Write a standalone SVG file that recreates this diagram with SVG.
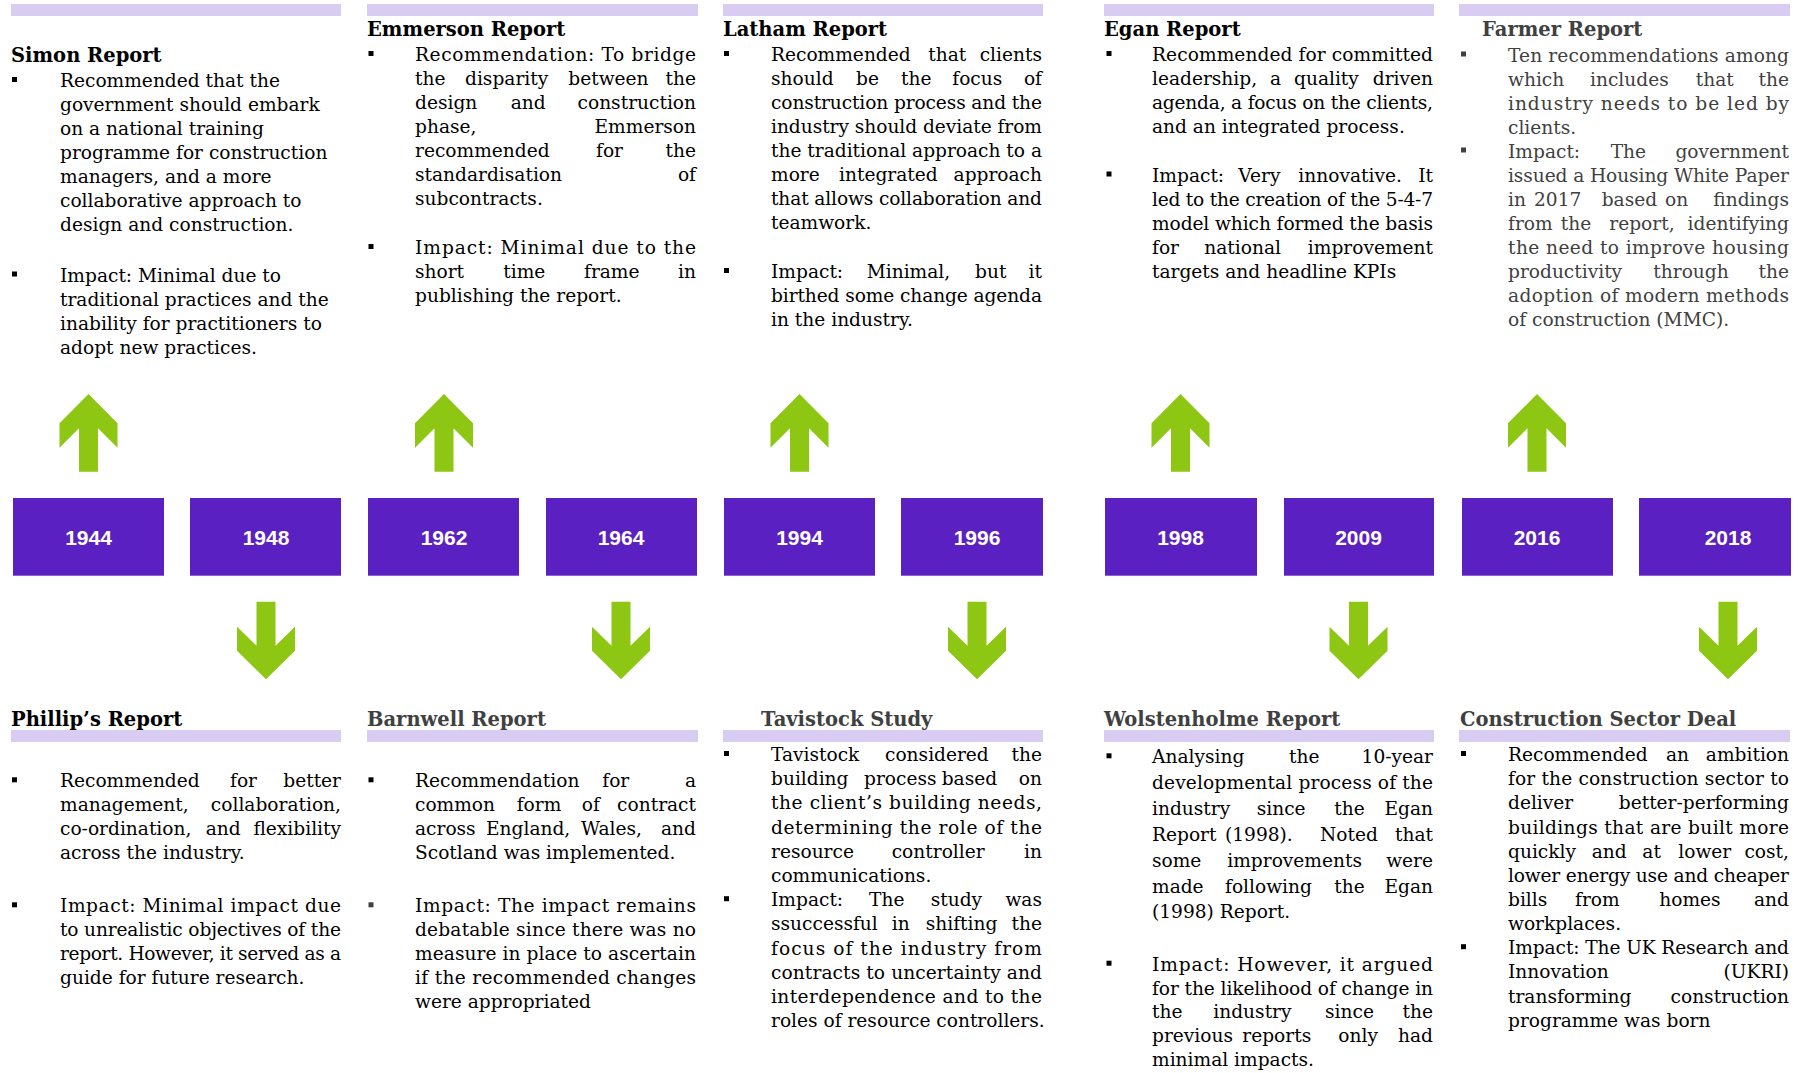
<svg xmlns="http://www.w3.org/2000/svg" width="1798" height="1073" viewBox="0 0 1798 1073">
<style>
.tx{font-family:"DejaVu Serif","Liberation Serif",serif;font-size:18.6px;fill:#000}
.hd{font-family:"DejaVu Serif","Liberation Serif",serif;font-size:19.5px;font-weight:bold;fill:#000}
.gr{fill:#404040}
.e{text-anchor:end}
.bar{fill:#d9ccf3}
.box{fill:#5b20c2}
.yr{font-family:"Liberation Sans",Arial,sans-serif;font-size:21px;font-weight:bold;fill:#fff;text-anchor:middle}
.arr{fill:#8dc713}
.bl{fill:#000}
.blg{fill:#404040}
</style>
<defs>
<polygon id="up" points="0,394 29,423.3 29,447.7 9.5,428.3 9.5,471.7 -9.5,471.7 -9.5,428.3 -29,447.7 -29,423.3"/>
<polygon id="down" points="0,679.3 29,650.7 29,626.7 9.5,645.7 9.5,601.7 -9.5,601.7 -9.5,645.7 -29,626.7 -29,650.7"/>
</defs>
<rect width="1798" height="1073" fill="#fff"/>

<!-- timeline year boxes -->
<g id="y1944"><rect class="box" x="13" y="498" width="151" height="77.7"/><text class="yr" x="88.5" y="545">1944</text></g>
<g id="y1948"><rect class="box" x="190" y="498" width="151" height="77.7"/><text class="yr" x="266" y="545">1948</text></g>
<g id="y1962"><rect class="box" x="368" y="498" width="151" height="77.7"/><text class="yr" x="444" y="545">1962</text></g>
<g id="y1964"><rect class="box" x="546" y="498" width="151" height="77.7"/><text class="yr" x="621" y="545">1964</text></g>
<g id="y1994"><rect class="box" x="724" y="498" width="151" height="77.7"/><text class="yr" x="799.5" y="545">1994</text></g>
<g id="y1996"><rect class="box" x="901" y="498" width="142" height="77.7"/><text class="yr" x="977" y="545">1996</text></g>
<g id="y1998"><rect class="box" x="1105" y="498" width="152" height="77.7"/><text class="yr" x="1180.5" y="545">1998</text></g>
<g id="y2009"><rect class="box" x="1284" y="498" width="150" height="77.7"/><text class="yr" x="1358.5" y="545">2009</text></g>
<g id="y2016"><rect class="box" x="1462" y="498" width="151" height="77.7"/><text class="yr" x="1537" y="545">2016</text></g>
<g id="y2018"><rect class="box" x="1639" y="498" width="152" height="77.7"/><text class="yr" x="1728" y="545">2018</text></g>

<!-- arrows from the years to their reports -->
<g id="connectors" class="arr">
<use href="#up" x="88.5"/>
<use href="#up" x="444"/>
<use href="#up" x="799.5"/>
<use href="#up" x="1180.5"/>
<use href="#up" x="1537"/>
<use href="#down" x="266"/>
<use href="#down" x="621"/>
<use href="#down" x="977"/>
<use href="#down" x="1358.5"/>
<use href="#down" x="1728"/>
</g>

<!-- upper reports -->
<g id="simon-report">
<rect class="bar" x="11" y="4" width="330" height="12"/>
<text class="hd" x="11" y="62">Simon Report</text>
<rect class="bl" x="12" y="77" width="5" height="5"/>
<text class="tx" x="60" y="87">Recommended that the</text>
<text class="tx" x="60" y="111">government should embark</text>
<text class="tx" x="60" y="135">on a national training</text>
<text class="tx" x="60" y="159">programme for construction</text>
<text class="tx" x="60" y="183">managers, and a more</text>
<text class="tx" x="60" y="207">collaborative approach to</text>
<text class="tx" x="60" y="231">design and construction.</text>
<rect class="bl" x="12" y="271.5" width="5" height="5"/>
<text class="tx" x="60" y="281.5">Impact: Minimal due to</text>
<text class="tx" x="60" y="305.5">traditional practices and the</text>
<text class="tx" x="60" y="329.5">inability for practitioners to</text>
<text class="tx" x="60" y="353.5">adopt new practices.</text>
</g>

<g id="emmerson-report">
<rect class="bar" x="367" y="4" width="331" height="12"/>
<text class="hd" x="367" y="35.7">Emmerson Report</text>
<rect class="bl" x="368.5" y="51" width="5" height="5"/>
<text class="tx" x="415" y="61" textLength="281" lengthAdjust="spacing">Recommendation: To bridge</text>
<text class="tx" y="85"><tspan x="415">the</tspan><tspan x="465">disparity</tspan><tspan x="568.3">between</tspan></text><text class="tx e" x="696" y="85">the</text>
<text class="tx" y="109"><tspan x="415">design</tspan><tspan x="510.7">and</tspan></text><text class="tx e" x="696" y="109">construction</text>
<text class="tx" x="415" y="133">phase,</text><text class="tx e" x="696" y="133">Emmerson</text>
<text class="tx" y="157"><tspan x="415">recommended</tspan><tspan x="596">for</tspan></text><text class="tx e" x="696" y="157">the</text>
<text class="tx" x="415" y="181">standardisation</text><text class="tx e" x="696" y="181">of</text>
<text class="tx" x="415" y="205">subcontracts.</text>
<rect class="bl" x="368.5" y="244" width="5" height="5"/>
<text class="tx" x="415" y="254" textLength="281" lengthAdjust="spacing">Impact: Minimal due to the</text>
<text class="tx" y="278"><tspan x="415">short</tspan><tspan x="503.3">time</tspan><tspan x="584">frame</tspan></text><text class="tx e" x="696" y="278">in</text>
<text class="tx" x="415" y="302">publishing the report.</text>
</g>

<g id="latham-report">
<rect class="bar" x="723" y="4" width="320" height="12"/>
<text class="hd" x="723" y="35.7">Latham Report</text>
<rect class="bl" x="724" y="51" width="5" height="5"/>
<text class="tx" y="61"><tspan x="771">Recommended</tspan><tspan x="928.3">that</tspan></text><text class="tx e" x="1042" y="61">clients</text>
<text class="tx" y="85"><tspan x="771">should</tspan><tspan x="856">be</tspan><tspan x="901">the</tspan><tspan x="952.3">focus</tspan></text><text class="tx e" x="1042" y="85">of</text>
<text class="tx" x="771" y="109" textLength="271" lengthAdjust="spacing">construction process and the</text>
<text class="tx" x="771" y="133" textLength="271" lengthAdjust="spacing">industry should deviate from</text>
<text class="tx" x="771" y="157" textLength="271" lengthAdjust="spacing">the traditional approach to a</text>
<text class="tx" y="181"><tspan x="771">more</tspan><tspan x="839">integrated</tspan></text><text class="tx e" x="1042" y="181">approach</text>
<text class="tx" x="771" y="205" textLength="271" lengthAdjust="spacing">that allows collaboration and</text>
<text class="tx" x="771" y="229">teamwork.</text>
<rect class="bl" x="724" y="268" width="5" height="5"/>
<text class="tx" y="278"><tspan x="771">Impact:</tspan><tspan x="866.7">Minimal,</tspan><tspan x="975">but</tspan></text><text class="tx e" x="1042" y="278">it</text>
<text class="tx" x="771" y="302" textLength="271" lengthAdjust="spacing">birthed some change agenda</text>
<text class="tx" x="771" y="326">in the industry.</text>
</g>

<g id="egan-report">
<rect class="bar" x="1104" y="4" width="330" height="12"/>
<text class="hd" x="1104" y="35.7">Egan Report</text>
<rect class="bl" x="1106.5" y="51" width="5" height="5"/>
<text class="tx" x="1152" y="61" textLength="281" lengthAdjust="spacing">Recommended for committed</text>
<text class="tx" y="85"><tspan x="1152">leadership,</tspan><tspan x="1270">a</tspan><tspan x="1294">quality</tspan></text><text class="tx e" x="1433" y="85">driven</text>
<text class="tx" x="1152" y="109" textLength="281" lengthAdjust="spacing">agenda, a focus on the clients,</text>
<text class="tx" x="1152" y="133">and an integrated process.</text>
<rect class="bl" x="1106.5" y="171.5" width="5" height="5"/>
<text class="tx" y="181.5"><tspan x="1152">Impact:</tspan><tspan x="1238.3">Very</tspan><tspan x="1298.3">innovative.</tspan></text><text class="tx e" x="1433" y="181.5">It</text>
<text class="tx" x="1152" y="205.5" textLength="281" lengthAdjust="spacing">led to the creation of the 5-4-7</text>
<text class="tx" x="1152" y="229.5" textLength="281" lengthAdjust="spacing">model which formed the basis</text>
<text class="tx" y="253.5"><tspan x="1152">for</tspan><tspan x="1204.3">national</tspan></text><text class="tx e" x="1433" y="253.5">improvement</text>
<text class="tx" x="1152" y="277.5">targets and headline KPIs</text>
</g>

<g id="farmer-report">
<rect class="bar" x="1459" y="4" width="331" height="12"/>
<text class="hd gr" x="1482" y="35.7">Farmer Report</text>
<rect class="blg" x="1461" y="51.5" width="5" height="5"/>
<text class="tx gr" x="1508" y="61.5" textLength="281" lengthAdjust="spacing">Ten recommendations among</text>
<text class="tx gr" y="85.5"><tspan x="1508">which</tspan><tspan x="1590">includes</tspan><tspan x="1695.7">that</tspan></text><text class="tx gr e" x="1789" y="85.5">the</text>
<text class="tx gr" x="1508" y="109.5" textLength="281" lengthAdjust="spacing">industry needs to be led by</text>
<text class="tx gr" x="1508" y="133.5">clients.</text>
<rect class="blg" x="1461" y="147.5" width="5" height="5"/>
<text class="tx gr" y="157.5"><tspan x="1508">Impact:</tspan><tspan x="1610.7">The</tspan></text><text class="tx gr e" x="1789" y="157.5">government</text>
<text class="tx gr" x="1508" y="181.5" textLength="281" lengthAdjust="spacing">issued a Housing White Paper</text>
<text class="tx gr" y="205.5"><tspan x="1508">in</tspan><tspan x="1534">2017</tspan><tspan x="1601.7">based</tspan><tspan x="1665">on</tspan></text><text class="tx gr e" x="1789" y="205.5">findings</text>
<text class="tx gr" y="229.5"><tspan x="1508">from</tspan><tspan x="1560.7">the</tspan><tspan x="1609.3">report,</tspan></text><text class="tx gr e" x="1789" y="229.5">identifying</text>
<text class="tx gr" x="1508" y="253.5" textLength="281" lengthAdjust="spacing">the need to improve housing</text>
<text class="tx gr" y="277.5"><tspan x="1508">productivity</tspan><tspan x="1653.3">through</tspan></text><text class="tx gr e" x="1789" y="277.5">the</text>
<text class="tx gr" x="1508" y="301.5" textLength="281" lengthAdjust="spacing">adoption of modern methods</text>
<text class="tx gr" x="1508" y="325.5">of construction (MMC).</text>
</g>

<!-- lower reports -->
<g id="phillips-report">
<text class="hd" x="11" y="725.7">Phillip’s Report</text>
<rect class="bar" x="11" y="730" width="330" height="12"/>
<rect class="bl" x="12" y="777.3" width="5" height="5"/>
<text class="tx" y="787.3"><tspan x="60">Recommended</tspan><tspan x="230">for</tspan></text><text class="tx e" x="341" y="787.3">better</text>
<text class="tx" x="60" y="811.3">management,</text><text class="tx e" x="341" y="811.3">collaboration,</text>
<text class="tx" y="835.3"><tspan x="60">co-ordination,</tspan><tspan x="205.7">and</tspan></text><text class="tx e" x="341" y="835.3">flexibility</text>
<text class="tx" x="60" y="859.3">across the industry.</text>
<rect class="bl" x="12" y="902.3" width="5" height="5"/>
<text class="tx" x="60" y="912.3" textLength="281" lengthAdjust="spacing">Impact: Minimal impact due</text>
<text class="tx" x="60" y="936.3" textLength="281" lengthAdjust="spacing">to unrealistic objectives of the</text>
<text class="tx" x="60" y="960.3" textLength="281" lengthAdjust="spacing">report. However, it served as a</text>
<text class="tx" x="60" y="984.3">guide for future research.</text>
</g>

<g id="barnwell-report">
<text class="hd gr" x="367" y="725.7">Barnwell Report</text>
<rect class="bar" x="367" y="730" width="331" height="12"/>
<rect class="bl" x="368.5" y="777.3" width="5" height="5"/>
<text class="tx" y="787.3"><tspan x="415">Recommendation</tspan><tspan x="602.3">for</tspan></text><text class="tx e" x="696" y="787.3">a</text>
<text class="tx" y="811.3"><tspan x="415">common</tspan><tspan x="516.7">form</tspan><tspan x="581.7">of</tspan></text><text class="tx e" x="696" y="811.3">contract</text>
<text class="tx" y="835.3"><tspan x="415">across</tspan><tspan x="486">England,</tspan><tspan x="581">Wales,</tspan></text><text class="tx e" x="696" y="835.3">and</text>
<text class="tx" x="415" y="859.3">Scotland was implemented.</text>
<rect class="blg" x="368.5" y="902.3" width="5" height="5"/>
<text class="tx" x="415" y="912.3" textLength="281" lengthAdjust="spacing">Impact: The impact remains</text>
<text class="tx" x="415" y="936.3" textLength="281" lengthAdjust="spacing">debatable since there was no</text>
<text class="tx" x="415" y="960.3" textLength="281" lengthAdjust="spacing">measure in place to ascertain</text>
<text class="tx" x="415" y="984.3" textLength="281" lengthAdjust="spacing">if the recommended changes</text>
<text class="tx" x="415" y="1008.3">were appropriated</text>
</g>

<g id="tavistock-study">
<text class="hd gr" x="761" y="725.7">Tavistock Study</text>
<rect class="bar" x="723" y="730" width="320" height="12"/>
<rect class="bl" x="724" y="751" width="5" height="5"/>
<text class="tx" y="761"><tspan x="771">Tavistock</tspan><tspan x="885">considered</tspan></text><text class="tx e" x="1042" y="761">the</text>
<text class="tx" y="785.2"><tspan x="771">building</tspan><tspan x="864">process</tspan><tspan x="941.7">based</tspan></text><text class="tx e" x="1042" y="785.2">on</text>
<text class="tx" x="771" y="809.4" textLength="271" lengthAdjust="spacing">the client’s building needs,</text>
<text class="tx" x="771" y="833.6" textLength="271" lengthAdjust="spacing">determining the role of the</text>
<text class="tx" y="857.8"><tspan x="771">resource</tspan><tspan x="891.7">controller</tspan></text><text class="tx e" x="1042" y="857.8">in</text>
<text class="tx" x="771" y="882">communications.</text>
<rect class="bl" x="724" y="896.2" width="5" height="5"/>
<text class="tx" y="906.2"><tspan x="771">Impact:</tspan><tspan x="869">The</tspan><tspan x="930.7">study</tspan></text><text class="tx e" x="1042" y="906.2">was</text>
<text class="tx" y="930.4"><tspan x="771">ssuccessful</tspan><tspan x="891.7">in</tspan><tspan x="925.7">shifting</tspan></text><text class="tx e" x="1042" y="930.4">the</text>
<text class="tx" x="771" y="954.6" textLength="271" lengthAdjust="spacing">focus of the industry from</text>
<text class="tx" x="771" y="978.8" textLength="271" lengthAdjust="spacing">contracts to uncertainty and</text>
<text class="tx" x="771" y="1003" textLength="271" lengthAdjust="spacing">interdependence and to the</text>
<text class="tx" x="771" y="1027.2">roles of resource controllers.</text>
</g>

<g id="wolstenholme-report">
<text class="hd gr" x="1104" y="725.7">Wolstenholme Report</text>
<rect class="bar" x="1104" y="730" width="330" height="12"/>
<rect class="bl" x="1106.5" y="753.3" width="5" height="5"/>
<text class="tx" y="763.3"><tspan x="1152">Analysing</tspan><tspan x="1289">the</tspan></text><text class="tx e" x="1433" y="763.3">10-year</text>
<text class="tx" x="1152" y="789.2" textLength="281" lengthAdjust="spacing">developmental process of the</text>
<text class="tx" y="815"><tspan x="1152">industry</tspan><tspan x="1256.7">since</tspan><tspan x="1334.3">the</tspan></text><text class="tx e" x="1433" y="815">Egan</text>
<text class="tx" y="840.8"><tspan x="1152">Report</tspan><tspan x="1225">(1998).</tspan><tspan x="1320">Noted</tspan></text><text class="tx e" x="1433" y="840.8">that</text>
<text class="tx" y="866.7"><tspan x="1152">some</tspan><tspan x="1227.3">improvements</tspan></text><text class="tx e" x="1433" y="866.7">were</text>
<text class="tx" y="892.5"><tspan x="1152">made</tspan><tspan x="1225">following</tspan><tspan x="1334.3">the</tspan></text><text class="tx e" x="1433" y="892.5">Egan</text>
<text class="tx" x="1152" y="918.3">(1998) Report.</text>
<rect class="bl" x="1106.5" y="960.7" width="5" height="5"/>
<text class="tx" x="1152" y="970.7" textLength="281" lengthAdjust="spacing">Impact: However, it argued</text>
<text class="tx" x="1152" y="994.5" textLength="281" lengthAdjust="spacing">for the likelihood of change in</text>
<text class="tx" y="1018.2"><tspan x="1152">the</tspan><tspan x="1213.3">industry</tspan><tspan x="1325">since</tspan></text><text class="tx e" x="1433" y="1018.2">the</text>
<text class="tx" y="1042"><tspan x="1152">previous</tspan><tspan x="1242.3">reports</tspan><tspan x="1338.3">only</tspan></text><text class="tx e" x="1433" y="1042">had</text>
<text class="tx" x="1152" y="1065.7">minimal impacts.</text>
</g>

<g id="construction-sector-deal">
<text class="hd gr" x="1460" y="725.7">Construction Sector Deal</text>
<rect class="bar" x="1459" y="730" width="331" height="12"/>
<rect class="bl" x="1461" y="751" width="5" height="5"/>
<text class="tx" y="761"><tspan x="1508">Recommended</tspan><tspan x="1666">an</tspan></text><text class="tx e" x="1789" y="761">ambition</text>
<text class="tx" x="1508" y="785.2" textLength="281" lengthAdjust="spacing">for the construction sector to</text>
<text class="tx" x="1508" y="809.3">deliver</text><text class="tx e" x="1789" y="809.3">better-performing</text>
<text class="tx" x="1508" y="833.5" textLength="281" lengthAdjust="spacing">buildings that are built more</text>
<text class="tx" y="857.6"><tspan x="1508">quickly</tspan><tspan x="1591.7">and</tspan><tspan x="1642.3">at</tspan><tspan x="1678.3">lower</tspan></text><text class="tx e" x="1789" y="857.6">cost,</text>
<text class="tx" x="1508" y="881.8" textLength="281" lengthAdjust="spacing">lower energy use and cheaper</text>
<text class="tx" y="905.9"><tspan x="1508">bills</tspan><tspan x="1575">from</tspan><tspan x="1659.3">homes</tspan></text><text class="tx e" x="1789" y="905.9">and</text>
<text class="tx" x="1508" y="930.1">workplaces.</text>
<rect class="bl" x="1461" y="944.2" width="5" height="5"/>
<text class="tx" x="1508" y="954.2" textLength="281" lengthAdjust="spacing">Impact: The UK Research and</text>
<text class="tx" x="1508" y="978.4">Innovation</text><text class="tx e" x="1789" y="978.4">(UKRI)</text>
<text class="tx" x="1508" y="1002.5">transforming</text><text class="tx e" x="1789" y="1002.5">construction</text>
<text class="tx" x="1508" y="1026.7">programme was born</text>
</g>
</svg>
